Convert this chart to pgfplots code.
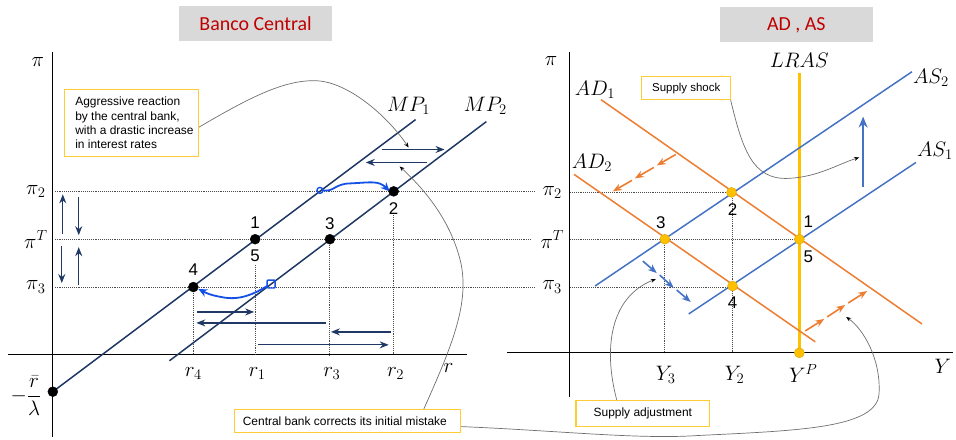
\documentclass[border=0pt]{standalone}
\usepackage{fix-cm}
\usepackage{pgfplots}
\pgfplotsset{compat=1.18}
\usepackage{fontspec}
\setmainfont{Liberation Sans}
\newfontfamily\calibri{Carlito}
\usetikzlibrary{arrows.meta}

\definecolor{navy}{RGB}{31,56,100}
\definecolor{brightblue}{RGB}{20,80,230}
\definecolor{orng}{RGB}{237,125,49}
\definecolor{asblue}{RGB}{68,114,196}
\definecolor{gold}{RGB}{255,192,0}
\definecolor{boxgray}{RGB}{217,217,217}
\definecolor{titlered}{RGB}{192,0,0}
\definecolor{notegray}{RGB}{110,110,110}

\tikzset{
  mlab/.style={font=\fontsize{21}{24}\selectfont},
  num/.style={font=\fontsize{17}{19}\selectfont},
  conn/.style={notegray, line width=0.7pt},
  arr/.style={-{Stealth[length=9pt,width=7pt]}},
  sarr/.style={-{Stealth[length=5pt,width=4pt,black]}},
}

\begin{document}
\begin{tikzpicture}
\begin{axis}[
  scale only axis, width=956pt, height=438pt,
  xmin=0, xmax=956, ymin=0, ymax=438, y dir=reverse,
  hide axis, clip=false]
\path (axis cs:0,0) rectangle (axis cs:956,438);

% ---------------- titles
\fill[boxgray] (axis cs:180,6) rectangle (axis cs:333,41);
\node[text=titlered, font=\calibri\fontsize{20}{22}\selectfont] at (axis cs:256.5,24) {Banco Central};
\fill[boxgray] (axis cs:722,7) rectangle (axis cs:876,42);
\node[text=titlered, font=\calibri\fontsize{20}{22}\selectfont] at (axis cs:799,25) {AD , AS};

% ================= left panel: Banco Central
% axes
\addplot[black, line width=0.9pt] coordinates {(53,52) (53,438)};
\addplot[black, line width=0.9pt] coordinates {(8,356) (469,356)};
% dotted guides
\addplot[densely dotted, gray!60!black, line width=0.9pt] coordinates {(55,192) (537,192)};
\addplot[densely dotted, gray!60!black, line width=0.9pt] coordinates {(55,240) (532,240)};
\addplot[densely dotted, gray!60!black, line width=0.9pt] coordinates {(55,288) (537,288)};
\addplot[densely dotted, gray!60!black, line width=0.9pt] coordinates {(194,288) (194,356)};
\addplot[densely dotted, gray!60!black, line width=0.9pt] coordinates {(256,266) (256,356)};
\addplot[densely dotted, gray!60!black, line width=0.9pt] coordinates {(331,240) (331,356)};
\addplot[densely dotted, gray!60!black, line width=0.9pt] coordinates {(395,214) (395,356)};
% MP curves
\addplot[navy, line width=1.5pt] coordinates {(53,393) (417,120)};
\addplot[navy, line width=1.5pt] coordinates {(170,362) (488,122)};
% points
\addplot[only marks, mark=*, mark size=5pt, black] coordinates {(395,192) (256,240) (331,240) (194,288) (53,393)};
% vertical arrows
\addplot[navy, line width=1.3pt, arr] coordinates {(63,235) (63,195)};
\addplot[navy, line width=1.3pt, arr] coordinates {(79,198) (79,236)};
\addplot[navy, line width=1.3pt, arr] coordinates {(62,247) (62,284)};
\addplot[navy, line width=1.3pt, arr] coordinates {(79,286) (79,248)};
% horizontal arrows
\addplot[navy, line width=1.3pt, arr] coordinates {(383,150) (446,150)};
\addplot[navy, line width=1.3pt, arr] coordinates {(428,163) (367,163)};
\addplot[navy, line width=1.3pt, arr] coordinates {(198,313) (255,313)};
\addplot[navy, line width=1.3pt, arr] coordinates {(327,324) (197,324)};
\addplot[navy, line width=1.3pt, arr] coordinates {(392,333) (332,333)};
\addplot[navy, line width=1.3pt, arr] coordinates {(259,346) (390,346)};
% hand-drawn blue moves
\draw[brightblue, line width=1.4pt] (axis cs:321,191) circle[radius=3pt];
\draw[brightblue, line width=1.8pt, -{Stealth[length=9pt,width=8pt]}]
  (axis cs:324,191) .. controls (axis cs:335,193) and (axis cs:336,184) .. (axis cs:352,184)
  .. controls (axis cs:372,183) and (axis cs:380,181) .. (axis cs:391,192);
\draw[brightblue, line width=1.4pt, rounded corners=1pt] (axis cs:268,281) rectangle (axis cs:276,289);
\draw[brightblue, line width=1.8pt, -{Stealth[length=9pt,width=8pt]}]
  (axis cs:268,287) .. controls (axis cs:255,295) and (axis cs:240,302) .. (axis cs:222,298)
  .. controls (axis cs:210,296) and (axis cs:205,293) .. (axis cs:199,290);
% labels
\node[mlab] at (axis cs:38,62) {$\pi$};
\node[mlab] at (axis cs:36,192) {$\pi_2$};
\node[mlab] at (axis cs:36,240) {$\pi^T$};
\node[mlab] at (axis cs:36,288) {$\pi_3$};
\node[mlab] at (axis cs:26,397) {$-\displaystyle\frac{\bar{r}}{\lambda}$};
\node[mlab] at (axis cs:194,375) {$r_4$};
\node[mlab] at (axis cs:258,375) {$r_1$};
\node[mlab] at (axis cs:333,375) {$r_3$};
\node[mlab] at (axis cs:397,375) {$r_2$};
\node[mlab] at (axis cs:450,369) {$r$};
\node[mlab] at (axis cs:410,106) {$MP_1$};
\node[mlab] at (axis cs:487,106) {$MP_2$};
\node[num] at (axis cs:256,223) {1};
\node[num] at (axis cs:256,257) {5};
\node[num] at (axis cs:331,224) {3};
\node[num] at (axis cs:395,209) {2};
\node[num] at (axis cs:194,271) {4};

% ================= right panel: AD, AS
\addplot[black, line width=0.9pt] coordinates {(571,52) (571,398)};
\addplot[black, line width=0.9pt] coordinates {(509,354) (956,354)};
\addplot[densely dotted, gray!60!black, line width=0.9pt] coordinates {(572,193) (734,193)};
\addplot[densely dotted, gray!60!black, line width=0.9pt] coordinates {(572,240) (802,240)};
\addplot[densely dotted, gray!60!black, line width=0.9pt] coordinates {(572,288) (735,288)};
\addplot[densely dotted, gray!60!black, line width=0.9pt] coordinates {(667,240) (667,354)};
\addplot[densely dotted, gray!60!black, line width=0.9pt] coordinates {(735,193) (735,354)};
% LRAS
\addplot[gold, line width=2.4pt] coordinates {(802,73) (802,354)};
% AD and AS
\addplot[orng, line width=1.5pt] coordinates {(603,100) (925,325)};
\addplot[orng, line width=1.5pt] coordinates {(576,175) (818,343)};
\addplot[asblue, line width=1.5pt] coordinates {(691,315) (919,163)};
\addplot[asblue, line width=1.5pt] coordinates {(597,287) (915,72)};
% equilibrium points
\addplot[only marks, mark=*, mark size=5pt, fill=gold, draw=gold!85!black] coordinates {(734,193) (667,240) (802,240) (735,287) (802,354)};
% shift arrows
\addplot[orng, line width=1.6pt, arr] coordinates {(678,155) (659,166)};
\addplot[orng, line width=1.6pt, arr] coordinates {(656,168) (637,179)};
\addplot[orng, line width=1.6pt, arr] coordinates {(634,181) (615,192)};
\addplot[asblue, line width=1.6pt, arr] coordinates {(645,262) (659,274)};
\addplot[asblue, line width=1.6pt, arr] coordinates {(662,276) (676,289)};
\addplot[asblue, line width=1.6pt, arr] coordinates {(679,291) (693,303)};
\addplot[orng, line width=1.6pt, arr] coordinates {(808,332) (827,320)};
\addplot[orng, line width=1.6pt, arr] coordinates {(830,318) (848,306)};
\addplot[orng, line width=1.6pt, arr] coordinates {(851,304) (870,292)};
\addplot[asblue, line width=1.8pt, -{Stealth[length=11pt,width=9pt]}] coordinates {(866,188) (866,117)};
% labels
\node[mlab] at (axis cs:553,61) {$\pi$};
\node[mlab] at (axis cs:554,193) {$\pi_2$};
\node[mlab] at (axis cs:554,240) {$\pi^T$};
\node[mlab] at (axis cs:554,288) {$\pi_3$};
\node[mlab] at (axis cs:668,376) {$Y_3$};
\node[mlab] at (axis cs:737,376) {$Y_2$};
\node[mlab] at (axis cs:806,375) {$Y^P$};
\node[mlab] at (axis cs:946,368) {$Y$};
\node[mlab] at (axis cs:802,61) {$LRAS$};
\node[mlab] at (axis cs:597,90) {$AD_1$};
\node[mlab] at (axis cs:594,163) {$AD_2$};
\node[mlab] at (axis cs:934,78) {$AS_2$};
\node[mlab] at (axis cs:938,151) {$AS_1$};
\node[num] at (axis cs:735,210) {2};
\node[num] at (axis cs:663,223) {3};
\node[num] at (axis cs:811,222) {1};
\node[num] at (axis cs:811,258) {5};
\node[num] at (axis cs:735,304) {4};

% ================= notes and connectors
\draw[conn, sarr] (axis cs:199,128) .. controls (axis cs:250,98) and (axis cs:285,80) .. (axis cs:317,81)
  .. controls (axis cs:350,82) and (axis cs:390,118) .. (axis cs:410,148);
\draw[conn, sarr] (axis cs:425,411) .. controls (axis cs:452,350) and (axis cs:472,305) .. (axis cs:462,262)
  .. controls (axis cs:452,222) and (axis cs:428,192) .. (axis cs:401,167);
\draw[conn, sarr] (axis cs:462,428) .. controls (axis cs:560,432) and (axis cs:640,441) .. (axis cs:700,437)
  .. controls (axis cs:800,432) and (axis cs:880,430) .. (axis cs:882,395)
  .. controls (axis cs:884,360) and (axis cs:866,330) .. (axis cs:849,318);
\draw[conn, sarr] (axis cs:733,100) .. controls (axis cs:745,150) and (axis cs:755,180) .. (axis cs:790,179)
  .. controls (axis cs:820,178) and (axis cs:840,165) .. (axis cs:862,158);
\draw[conn, sarr] (axis cs:619,402) .. controls (axis cs:605,350) and (axis cs:612,298) .. (axis cs:658,280);

\draw[gold!80!white, line width=1.2pt, fill=white] (axis cs:65,90) rectangle (axis cs:199,157);
\node[anchor=west, align=left, font=\fontsize{12}{14.3}\selectfont] at (axis cs:72,123.5)
  {Aggressive reaction\\by the central bank,\\with a drastic increase\\in interest rates};
\draw[gold!80!white, line width=1.2pt, fill=white] (axis cs:235,411) rectangle (axis cs:462,434);
\node[font=\fontsize{12}{14}\selectfont] at (axis cs:346,422.5) {Central bank corrects its initial mistake};
\draw[gold!80!white, line width=1.2pt, fill=white] (axis cs:644,77) rectangle (axis cs:733,100);
\node[font=\fontsize{11.5}{13}\selectfont] at (axis cs:688.5,88.5) {Supply shock};
\draw[gold!80!white, line width=1.2pt, fill=white] (axis cs:578,402) rectangle (axis cs:712,428);
\node[font=\fontsize{12}{14}\selectfont] at (axis cs:645,415) {Supply adjustment};
\end{axis}
\end{tikzpicture}
\end{document}
